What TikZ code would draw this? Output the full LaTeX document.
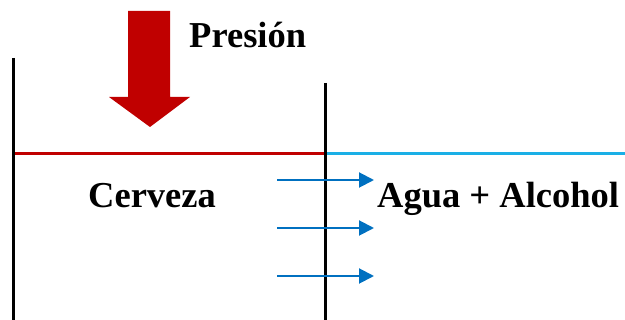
\documentclass[tikz,border=0pt]{standalone}
\usepackage{fontspec}
\setmainfont{Liberation Serif}
\usepackage{xcolor}
\usetikzlibrary{arrows.meta,positioning,calc}
\definecolor{pressred}{HTML}{C00000}
\definecolor{waterblue}{HTML}{1AAFE6}
\definecolor{flowblue}{HTML}{0070C0}

\begin{document}
\begin{tikzpicture}[x=1pt, y=-1pt,
  wall/.style={line width=3pt, black},
  membrane/.style={line width=3pt},
  flow/.style={-{Triangle[length=15pt, width=15pt]}, line width=2pt, color=flowblue},
  label/.style={font=\fontsize{36.5}{42}\selectfont\bfseries, inner sep=0pt, anchor=base west}
]
\useasboundingbox (0,0) rectangle (625,320);

% walls
\coordinate (lefttop) at (13,58);
\coordinate (leftbot) at (13,320);
\coordinate (midtop) at (325,83);
\coordinate (midbot) at (325,320);
\coordinate (mid) at (325,154);
\coordinate (right) at (625,154);
\draw[membrane, pressred] (13,154) -- (mid);
\draw[membrane, waterblue] (mid) -- (right);
\draw[wall] (lefttop) -- (leftbot);
\draw[wall] (midtop) -- (midbot);

% pressure arrow
\fill[pressred] (128,11) -- (170,11) -- (170,97) -- (190,97)
  -- (150,127) -- (109,97) -- (128,97) -- cycle;
\node[label] (presion) at (189,48) {Presión};

% liquids
\node[label] (cerveza) at (88,208) {Cerveza};
\node[label] (agua) at (377,208) {Agua + Alcohol};

% flow through the membrane
\foreach \y [count=\i] in {180,228,276} {
  \coordinate (from\i) at (277,\y);
  \coordinate (to\i) at (374,\y);
  \draw[flow] (from\i) -- (to\i);
}
\end{tikzpicture}
\end{document}
